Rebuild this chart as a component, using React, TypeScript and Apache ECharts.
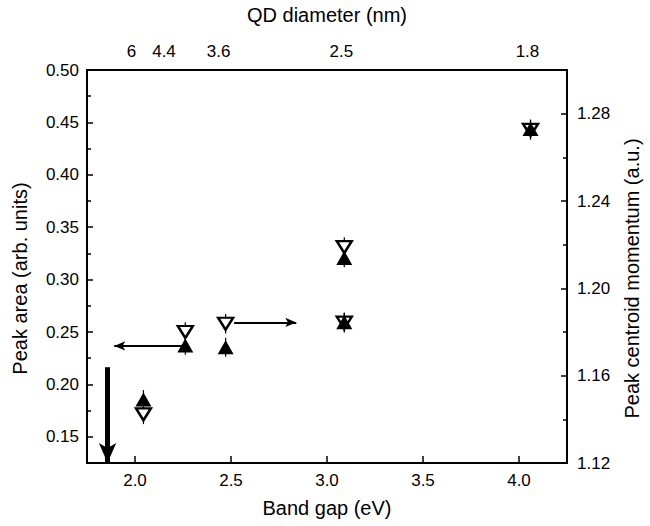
import React, { useEffect, useRef } from "react";
import * as echarts from "echarts";

const FONT = "'Liberation Sans', Arial, sans-serif";

// Band gap (eV) of each measured point
const bandGap = [2.044, 2.262, 2.472, 3.09, 3.09, 4.06];
// Peak area (left axis) – filled up-triangles
const peakArea = [0.1855, 0.2372, 0.2355, 0.3207, 0.2593, 0.4438];
const peakAreaErr = [0.009, 0.009, 0.009, 0.009, 0.009, 0.009];
// Peak centroid momentum (right axis) – open down-triangles
const momentum = [1.1423, 1.18, 1.1838, 1.2189, 1.1843, 1.2726];
const momentumErr = [0.0045, 0.0045, 0.0045, 0.0045, 0.0045, 0.0045];

// axis ticks
const bottomTicks = [2.0, 2.5, 3.0, 3.5, 4.0];
const leftTicks = [0.15, 0.2, 0.25, 0.3, 0.35, 0.4, 0.45, 0.5];
const leftMinor = [0.175, 0.225, 0.275, 0.325, 0.375, 0.425, 0.475];
const rightTicks = [1.12, 1.16, 1.2, 1.24, 1.28];
const rightMinor = [1.14, 1.18, 1.22, 1.26];
// top axis: QD diameter labels placed at band gap positions
const qdPositions = [1.982, 2.151, 2.435, 3.075, 4.044];
const qdLabels = ["6", "4.4", "3.6", "2.5", "1.8"];

// annotation arrows [x1, y1, x2, y2]
const downArrow = [1.857, 0.2164, 1.857, 0.125];
const leftArrow = [2.258, 0.2367, 1.892, 0.2367];
const rightArrow = [2.516, 1.1844, 2.84, 1.1844];

export default function App() {
  const ref = useRef<HTMLDivElement>(null);
  useEffect(() => {
    if (!ref.current) return;
    const chart = echarts.init(ref.current, null, { renderer: "svg" });
    const axisLine = { show: true, lineStyle: { color: "#000", width: 2 } };
    const labelStyle = { color: "#000", fontSize: 17, fontFamily: FONT };
    const nameStyle = { color: "#000", fontSize: 20, fontFamily: FONT };
    const errRender = (params: any, api: any) => {
      const x = api.value(0);
      const y = api.value(1);
      const e = api.value(2);
      const p1 = api.coord([x, y - e]);
      const p2 = api.coord([x, y + e]);
      return {
        type: "line",
        shape: { x1: p1[0], y1: p1[1], x2: p2[0], y2: p2[1] },
        style: { stroke: "#000", lineWidth: 1.2 },
      };
    };
    const arrowLine = (a: number[], width: number, size: number[]) => ({
      silent: true,
      symbol: ["none", "arrow"],
      symbolSize: size,
      label: { show: false },
      emphasis: { disabled: true },
      lineStyle: { color: "#000", width, type: "solid" },
      data: [[{ coord: [a[0], a[1]] }, { coord: [a[2], a[3]] }]],
    });
    chart.setOption({
      animation: false,
      backgroundColor: "#fff",
      grid: { left: 87, right: 72, top: 69, bottom: 63 },
      xAxis: [
        {
          type: "value",
          position: "bottom",
          min: 1.75,
          max: 4.25,
          name: "Band gap (eV)",
          nameLocation: "middle",
          nameGap: 35,
          nameTextStyle: nameStyle,
          axisLine,
          splitLine: { show: false },
          axisTick: {
            show: true,
            inside: true,
            length: 7,
            customValues: bottomTicks,
            lineStyle: { color: "#000", width: 1.5 },
          },
          axisLabel: {
            ...labelStyle,
            margin: 9,
            customValues: bottomTicks,
            formatter: (v: number) => v.toFixed(1),
          },
        },
        {
          type: "value",
          position: "top",
          min: 1.75,
          max: 4.25,
          name: "QD diameter (nm)",
          nameLocation: "middle",
          nameGap: 45,
          nameTextStyle: nameStyle,
          axisLine,
          splitLine: { show: false },
          axisTick: { show: false },
          axisLabel: {
            ...labelStyle,
            margin: 10,
            customValues: qdPositions,
            formatter: (v: number) => {
              let best = 0;
              qdPositions.forEach((p, i) => {
                if (Math.abs(p - v) < Math.abs(qdPositions[best] - v)) best = i;
              });
              return qdLabels[best];
            },
          },
        },
      ],
      yAxis: [
        {
          type: "value",
          position: "left",
          min: 0.125,
          max: 0.5,
          name: "Peak area (arb. units)",
          nameLocation: "middle",
          nameGap: 57,
          nameTextStyle: { ...nameStyle, padding: [0, 24, 0, 0] },
          axisLine,
          splitLine: { show: false },
          axisTick: {
            show: true,
            inside: true,
            length: 6,
            customValues: leftTicks,
            lineStyle: { color: "#000", width: 1.5 },
          },
          axisLabel: {
            ...labelStyle,
            margin: 8,
            customValues: leftTicks,
            formatter: (v: number) => v.toFixed(2),
          },
        },
        {
          type: "value",
          position: "left",
          min: 0.125,
          max: 0.5,
          axisLine: { show: false },
          splitLine: { show: false },
          axisLabel: { show: false },
          axisTick: {
            show: true,
            inside: true,
            length: 4,
            customValues: leftMinor,
            lineStyle: { color: "#000", width: 1.5 },
          },
        },
        {
          type: "value",
          position: "right",
          min: 1.12,
          max: 1.3,
          name: "Peak centroid momentum (a.u.)",
          nameLocation: "middle",
          nameGap: 55,
          nameTextStyle: { ...nameStyle, padding: [0, 24, 0, 0] },
          axisLine,
          splitLine: { show: false },
          axisTick: {
            show: true,
            inside: true,
            length: 6,
            customValues: rightTicks,
            lineStyle: { color: "#000", width: 1.5 },
          },
          axisLabel: {
            ...labelStyle,
            margin: 10,
            customValues: rightTicks,
            formatter: (v: number) => v.toFixed(2),
          },
        },
        {
          type: "value",
          position: "right",
          min: 1.12,
          max: 1.3,
          axisLine: { show: false },
          splitLine: { show: false },
          axisLabel: { show: false },
          axisTick: {
            show: true,
            inside: true,
            length: 4,
            customValues: rightMinor,
            lineStyle: { color: "#000", width: 1.5 },
          },
        },
      ],
      series: [
        {
          type: "custom",
          coordinateSystem: "cartesian2d",
          xAxisIndex: 0,
          yAxisIndex: 0,
          silent: true,
          z: 2,
          renderItem: errRender,
          data: bandGap.map((x, i) => [x, peakArea[i], peakAreaErr[i]]),
        },
        {
          type: "custom",
          coordinateSystem: "cartesian2d",
          xAxisIndex: 0,
          yAxisIndex: 2,
          silent: true,
          z: 2,
          renderItem: errRender,
          data: bandGap.map((x, i) => [x, momentum[i], momentumErr[i]]),
        },
        {
          type: "scatter",
          name: "Peak centroid momentum",
          xAxisIndex: 0,
          yAxisIndex: 2,
          symbol: "triangle",
          symbolRotate: 180,
          symbolSize: [15, 12],
          itemStyle: { color: "#fff", borderColor: "#000", borderWidth: 2.4, opacity: 1 },
          z: 3,
          data: bandGap.map((x, i) => [x, momentum[i]]),
          markLine: arrowLine(rightArrow, 2, [7, 11]),
        },
        {
          type: "scatter",
          name: "Peak area",
          xAxisIndex: 0,
          yAxisIndex: 0,
          symbol: "triangle",
          symbolSize: [16, 14],
          itemStyle: { color: "#000", opacity: 1 },
          z: 4,
          data: bandGap.map((x, i) => [x, peakArea[i]]),
          markLine: {
            silent: true,
            symbol: ["none", "arrow"],
            label: { show: false },
            emphasis: { disabled: true },
            data: [
              [
                { coord: [downArrow[0], downArrow[1]], lineStyle: { color: "#000", width: 5, type: "solid" }, symbolSize: [13, 20] },
                { coord: [downArrow[2], downArrow[3]], symbolSize: [13, 20] },
              ],
              [
                { coord: [leftArrow[0], leftArrow[1]], lineStyle: { color: "#000", width: 2, type: "solid" }, symbolSize: [7, 11] },
                { coord: [leftArrow[2], leftArrow[3]], symbolSize: [7, 11] },
              ],
            ],
          },
        },
      ],
    });
    return () => chart.dispose();
  }, []);
  return (
    <div
      ref={ref}
      style={{ position: "absolute", left: 0, top: 0, width: 650, height: 526, background: "#fff" }}
    />
  );
}
